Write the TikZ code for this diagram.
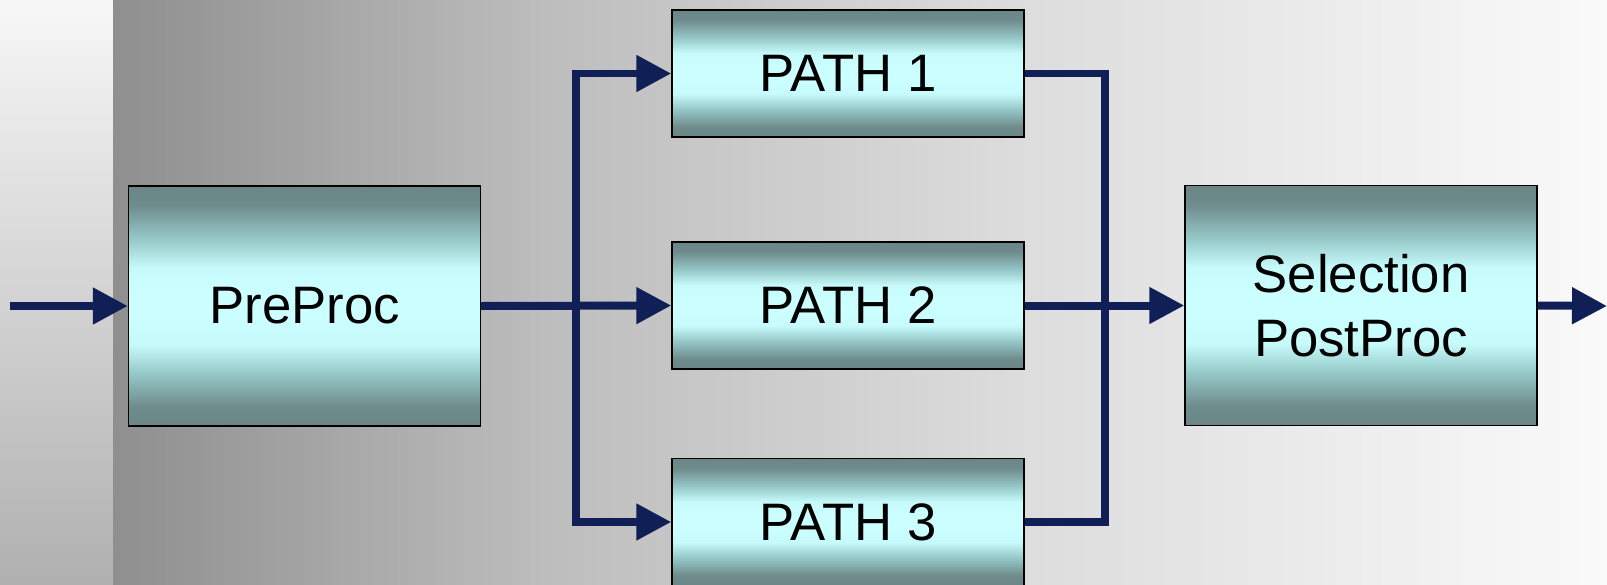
\documentclass[tikz,border=0pt]{standalone}
\usepackage{fontspec}
\setmainfont{Liberation Sans}
\usetikzlibrary{arrows.meta}

\definecolor{sigblue}{RGB}{16,32,86}
\definecolor{tealdark}{RGB}{106,134,134}
\definecolor{tealmid}{RGB}{150,200,200}
\definecolor{teallight}{RGB}{204,255,255}

% fond gris degradé (gauche sombre -> droite clair)
\pgfdeclarehorizontalshading{bg_shade}{100bp}{%
  color(0bp)=(black!44); color(25bp)=(black!44);
  color(31.3bp)=(black!36); color(39.3bp)=(black!26);
  color(54.7bp)=(black!14); color(75bp)=(black!2); color(100bp)=(black!2)}

% blocs : sombre en haut et en bas, cyan clair au centre
\pgfdeclareverticalshading{blk_shade}{100bp}{%
  color(0bp)=(tealdark); color(25bp)=(tealdark); color(29bp)=(tealdark!95!teallight);
  color(36bp)=(tealmid); color(42bp)=(teallight!90!tealmid); color(48bp)=(teallight);
  color(52bp)=(teallight); color(58bp)=(teallight!90!tealmid); color(64bp)=(tealmid);
  color(71bp)=(tealdark!95!teallight); color(75bp)=(tealdark); color(100bp)=(tealdark)}

\begin{document}
\begin{tikzpicture}[x=0.02cm, y=-0.02cm]
        % --- Styles ---
        \tikzset{
            blk_box/.style={draw=black, line width=0.85pt, shading=blk_shade,
                font=\fontsize{30}{36.4}\selectfont, align=center, inner sep=0pt,
                minimum width=7.04cm},
            big_box/.style={blk_box, minimum height=4.8cm},
            path_box/.style={blk_box, minimum height=2.54cm},
            sig_line/.style={draw=sigblue, line width=4.55pt, line join=miter},
            sig_arrow/.style={sig_line, -{Triangle[length=0.7cm, width=0.7cm]}}
        }

        \useasboundingbox (0,0) rectangle (1607,585);

        % --- Fond ---
        \fill[top color=black!3, bottom color=black!31] (0,0) rectangle (113,585);
        \shade[shading=bg_shade] (113,0) rectangle (1607,585);

        % --- Blocs ---
        \node[big_box] (pre) at (304.5,306) {PreProc};
        \node[path_box] (path1) at (848,73.5) {PATH 1};
        \node[path_box] (path2) at (848,305.5) {PATH 2};
        \node[path_box] (path3) at (848,522) {PATH 3};
        \node[big_box] (sel) at (1361,305.5) {Selection\\PostProc};

        % points de branchement
        \coordinate (in) at (10,306);
        \coordinate (split) at (576,306);
        \coordinate (merge) at (1105,306);
        \coordinate (out) at (1607,306);

        % --- Liaisons ---
        \draw[sig_arrow] (in) -- (pre.west);
        \draw[sig_arrow] (pre.east) -- (path2.west);
        \draw[sig_arrow] (split) |- (path1.west);
        \draw[sig_arrow] (split) |- (path3.west);
        \draw[sig_line] (path1.east) -| (merge) |- (path3.east);
        \draw[sig_arrow] (path2.east) -- (sel.west);
        \draw[sig_arrow] (sel.east) -- (out);
\end{tikzpicture}
\end{document}
